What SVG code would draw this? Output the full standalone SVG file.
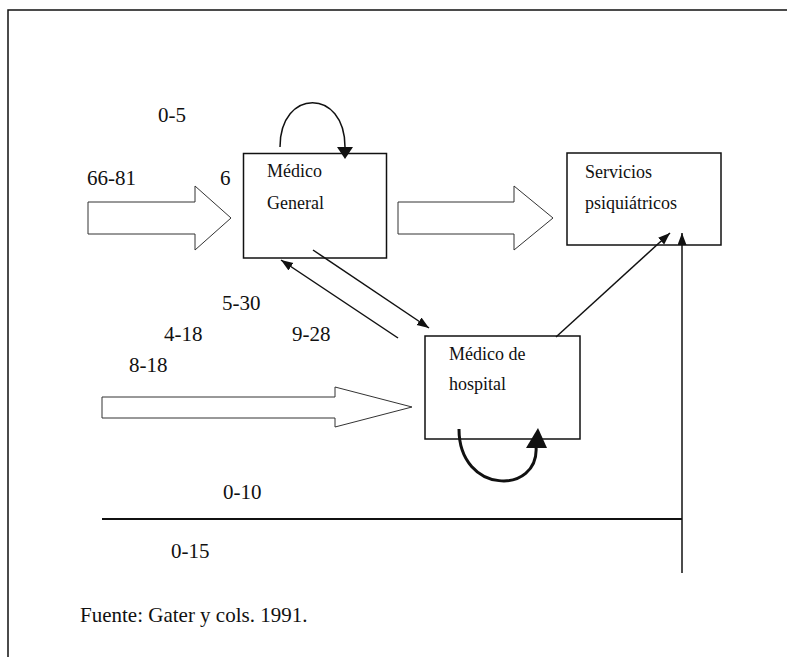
<svg xmlns="http://www.w3.org/2000/svg" width="787" height="657" viewBox="0 0 787 657">
<style>
.num{font-size:21px;fill:#111}
.lbl{font-size:18px;fill:#111}
.box{fill:#fff;stroke:#111;stroke-width:1.5}
.big{fill:#fff;stroke:#333;stroke-width:1}
.ln{fill:none;stroke:#111;stroke-width:1.5}
</style>
<defs>
<marker id="ah" markerUnits="userSpaceOnUse" markerWidth="13" markerHeight="10" refX="12" refY="4.5" orient="auto">
<path d="M0,0 L12,4.5 L0,9 z" fill="#111"/>
</marker>
</defs>
<rect width="787" height="657" fill="#fff"/>
<g id="frame">
<path d="M8,657 L8,10 L787,10" fill="none" stroke="#111" stroke-width="1.5"/>
</g>
<g font-family="Liberation Serif, Times New Roman, DejaVu Serif, serif">
<g id="medico-general">
<rect class="box" x="243.5" y="153.5" width="143" height="104.5"/>
<text class="lbl" x="267" y="177">Médico</text>
<text class="lbl" x="267" y="209">General</text>
</g>
<g id="servicios">
<rect class="box" x="567" y="153" width="154" height="92"/>
<text class="lbl" x="585" y="178">Servicios</text>
<text class="lbl" x="585" y="209">psiquiátricos</text>
</g>
<g id="hospital">
<rect class="box" x="425" y="336" width="155" height="103"/>
<text class="lbl" x="449" y="360">Médico de</text>
<text class="lbl" x="449" y="390">hospital</text>
</g>
<g id="labels">
<text class="num" x="158" y="122">0-5</text>
<text class="num" x="87" y="185">66-81</text>
<text class="num" x="220" y="185">6</text>
<text class="num" x="222" y="310">5-30</text>
<text class="num" x="164" y="341">4-18</text>
<text class="num" x="292" y="341">9-28</text>
<text class="num" x="129" y="372">8-18</text>
<text class="num" x="223" y="499">0-10</text>
<text class="num" x="171" y="558">0-15</text>
<text class="num" x="80" y="622">Fuente: Gater y cols. 1991.</text>
</g>
</g>
<g id="connectors">
<polygon class="big" points="88,202 195,202 195,186 231,218 195,250 195,234 88,234"/>
<polygon class="big" points="398,202 514,202 514,186 553,218 514,250 514,234 398,234"/>
<polygon class="big" points="102,397 335,397 335,387 412,407 335,427 335,418 102,418"/>
<path class="ln" d="M280,147 C280,88 345,88 345,147"/>
<polygon points="337,147 353,147 345,159" fill="#111"/>
<path d="M459,429 C459,495 540,495 536,446" fill="none" stroke="#111" stroke-width="3"/>
<polygon points="526,448 547,448 538,428" fill="#111"/>
<line class="ln" x1="313" y1="250" x2="429" y2="328" marker-end="url(#ah)"/>
<line class="ln" x1="398" y1="338" x2="281" y2="260" marker-end="url(#ah)"/>
<line class="ln" x1="556" y1="337" x2="670" y2="233" marker-end="url(#ah)"/>
<line class="ln" x1="682" y1="573" x2="682" y2="233" marker-end="url(#ah)"/>
<line x1="102" y1="519" x2="682" y2="519" stroke="#111" stroke-width="2"/>
</g>
</svg>
